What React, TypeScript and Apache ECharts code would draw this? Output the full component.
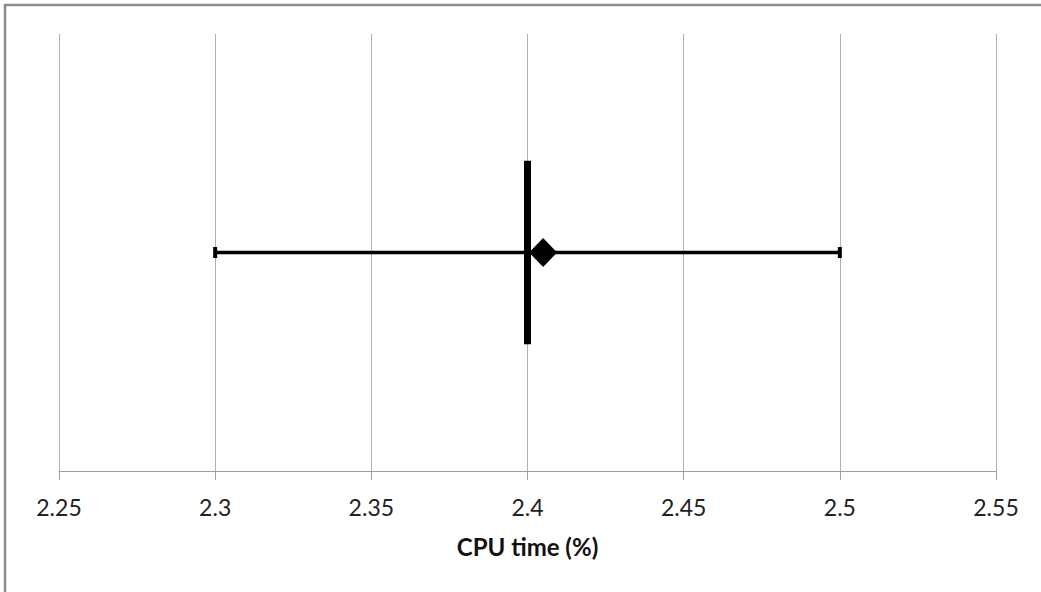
import React, { useEffect, useRef } from "react";
import * as echarts from "echarts";

// Data
const xTicks = [2.25, 2.3, 2.35, 2.4, 2.45, 2.5, 2.55];
const errorLow = [2.3];
const errorHigh = [2.5];
const pointX = [2.405];
const pointY = [0.5];
const refLineX = [2.4];
const refLineLow = [0.29];
const refLineHigh = [0.71];
const axisTitle = "CPU time (%)";

const FONT = "Lato, 'Liberation Sans', sans-serif";

export default function App() {
  const ref = useRef<HTMLDivElement>(null);
  useEffect(() => {
    if (!ref.current) return;
    const chart = echarts.init(ref.current, null, { renderer: "svg" });
    const errData = errorLow.map((lo, i) => [lo, errorHigh[i], pointY[i]]);
    const refData = refLineX.map((x, i) => [x, refLineLow[i], refLineHigh[i]]);
    const option: any = {
      animation: false,
      backgroundColor: "#ffffff",
      grid: { left: 59, right: 45, top: 34, bottom: 121 },
      graphic: [
        {
          type: "rect",
          shape: { x: 5, y: 5, width: 1100, height: 700 },
          style: { fill: "none", stroke: "#8c8c8c", lineWidth: 2.5 },
          silent: true,
          z: 0,
        },
      ],
      xAxis: {
        type: "value",
        min: xTicks[0],
        max: xTicks[xTicks.length - 1],
        interval: 0.05,
        name: axisTitle,
        nameLocation: "middle",
        nameGap: 63,
        nameTextStyle: {
          fontFamily: FONT,
          fontSize: 24,
          fontWeight: "bold",
          color: "#111",
        },
        axisLine: { show: true, lineStyle: { color: "#a0a0a0", width: 1 } },
        axisTick: { show: true, length: 9, inside: false, lineStyle: { color: "#a0a0a0" } },
        splitLine: { show: true, lineStyle: { color: "#b0b0b0", width: 1 } },
        axisLabel: {
          fontFamily: FONT,
          fontSize: 23,
          color: "#222",
          margin: 24,
          formatter: (v: number) => String(parseFloat(v.toFixed(2))),
        },
      },
      yAxis: {
        type: "value",
        min: 0,
        max: 1,
        show: false,
        splitLine: { show: false },
      },
      series: [
        {
          type: "custom",
          data: refData,
          renderItem: (params: any, api: any) => {
            const x = api.value(0);
            const p1 = api.coord([x, api.value(1)]);
            const p2 = api.coord([x, api.value(2)]);
            return {
              type: "line",
              shape: { x1: p1[0], y1: p1[1], x2: p2[0], y2: p2[1] },
              style: { stroke: "#000", lineWidth: 7, lineCap: "butt" },
            };
          },
          z: 3,
        },
        {
          type: "custom",
          data: errData,
          renderItem: (params: any, api: any) => {
            const y = api.value(2);
            const a = api.coord([api.value(0), y]);
            const b = api.coord([api.value(1), y]);
            const capW = 4;
            const capH = 11;
            return {
              type: "group",
              children: [
                {
                  type: "line",
                  shape: { x1: a[0], y1: a[1], x2: b[0], y2: b[1] },
                  style: { stroke: "#000", lineWidth: 3.5, lineCap: "butt" },
                },
                {
                  type: "rect",
                  shape: { x: a[0] - capW / 2, y: a[1] - capH / 2, width: capW, height: capH },
                  style: { fill: "#000" },
                },
                {
                  type: "rect",
                  shape: { x: b[0] - capW / 2, y: b[1] - capH / 2, width: capW, height: capH },
                  style: { fill: "#000" },
                },
              ],
            };
          },
          z: 3,
        },
        {
          type: "scatter",
          data: pointX.map((x, i) => [x, pointY[i]]),
          symbol: "diamond",
          symbolSize: [28, 29],
          itemStyle: { color: "#000", opacity: 1 },
          z: 4,
        },
      ],
    };
    chart.setOption(option);
    return () => chart.dispose();
  }, []);
  return (
    <div
      ref={ref}
      style={{ position: "absolute", left: 0, top: 0, width: 1041, height: 592 }}
    />
  );
}
